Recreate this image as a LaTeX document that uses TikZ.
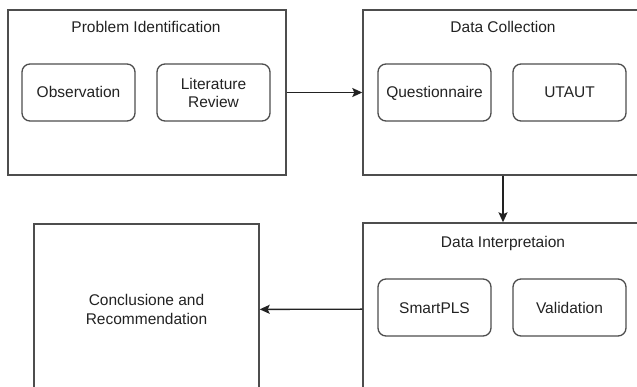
\documentclass[tikz,border=0pt]{standalone}
\usepackage{fontspec}
\setmainfont{Liberation Sans}
\usetikzlibrary{positioning,arrows.meta}
\definecolor{edge}{HTML}{4D4D4D}
\definecolor{ink}{HTML}{222222}

\begin{document}
\begin{tikzpicture}[
  x=1pt, y=-1pt,
  outer/.style = {draw=edge, line width=1.4pt, inner sep=0pt},
  step box/.style = {draw=edge, line width=1.3pt, rounded corners=8pt,
                 minimum width=113pt, minimum height=57pt, align=center,
                 font=\fontsize{15.5}{18}\selectfont, text=ink, inner sep=1pt},
  one line/.style = {text height=11pt, text depth=0pt},
  title/.style = {font=\fontsize{15.5}{18}\selectfont, text=ink},
  arr/.style  = {-{Stealth[length=10pt,width=9pt,inset=2pt]}, line width=1.4pt, draw=ink, fill=ink},
]
\clip (0,0) rectangle (637,387);
% outer frames
\node[outer, minimum width=278pt, minimum height=165pt] (pi) at (147,92.5) {};
\node[outer, minimum width=282pt, minimum height=165pt] (dc) at (504,92.5) {};
\node[outer, minimum width=282pt, minimum height=172pt] (di) at (504,309) {};
\node[outer, minimum width=225pt, minimum height=171pt, align=center,
      font=\fontsize{15.5}{19}\selectfont, text=ink] (cr) at (146.5,309.5)
      {Conclusione and\\ Recommendation};
% titles
\node[title] (pit) at (146,27) {Problem Identification};
\node[title] (dct) at (503,27) {Data Collection};
\node[title] (dit) at (503,243) {Data Interpretaion};
% inner steps
\node[step box, one line] (obs) at (78.5,92.5)  {Observation};
\node[step box] (lit) at (213.5,92.5) {Literature\\ Review};
\node[step box, one line] (que) at (434.5,92.5) {Questionnaire};
\node[step box, one line] (uta) at (569.5,92.5) {UTAUT};
\node[step box, one line] (spl) at (434.5,307.5) {SmartPLS};
\node[step box, one line] (val) at (569.5,307.5) {Validation};
% edges
\draw[arr] (pi) -- (dc);
\draw[arr] (dc.south -| dct) -- (di.north -| dct);
\draw[arr] (di) -- (cr);
\end{tikzpicture}
\end{document}
